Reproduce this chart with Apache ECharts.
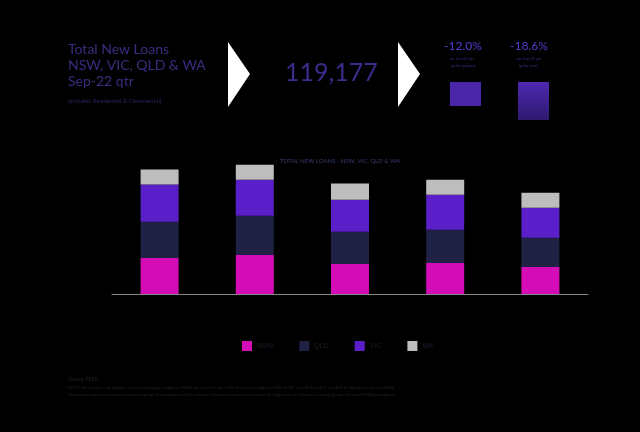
<!DOCTYPE html><html><head><meta charset="utf-8"><script src="https://cdn.jsdelivr.net/npm/echarts@6/dist/echarts.min.js"></script>
<style>html,body{margin:0;background:#000}#c{width:640px;height:432px}</style></head><body><div id="c"></div><script>
const categories=['Sep-21','Dec-21','Mar-22','Jun-22','Sep-22'];
const nsw=[42500,46000,35400,36600,31900];
const qld=[42500,46000,37800,38900,34200];
const vic=[43700,42500,37800,41300,35400];
const wa=[17700,17700,18900,17700,17677];
const colors={NSW:'#d40cb5',QLD:'#1f2244',VIC:'#5a1fc8',WA:'#bdbdbd'};
const ch=echarts.init(document.getElementById('c'));
const mk=(n,d)=>({name:n,type:'bar',stack:'t',data:d,barWidth:38,itemStyle:{color:colors[n]}});
const T=(x,y,t,s,c,extra)=>Object.assign({type:'text',left:x,top:y,style:{text:t,font:s+'px Lato, sans-serif',fill:c}},extra||{});
ch.setOption({backgroundColor:'#000',animation:false,
title:{text:'TOTAL NEW LOANS - NSW, VIC, QLD & WA',left:335,top:153,textAlign:'center',textStyle:{color:'#2a2f55',fontSize:6,fontWeight:'bold',fontFamily:'Lato'}},
grid:{left:112,right:52,top:158,bottom:138},
xAxis:{type:'category',data:categories,axisLabel:{show:false},axisTick:{show:false},axisLine:{lineStyle:{color:'#888',width:1}}},
yAxis:{type:'value',min:0,max:160000,show:false,splitLine:{show:false}},
legend:{bottom:76,left:237,itemWidth:10,itemHeight:10,itemGap:26,icon:'rect',textStyle:{color:'#1c1c2a',fontSize:7}},
series:[mk('NSW',nsw),mk('QLD',qld),mk('VIC',vic),mk('WA',wa)],
graphic:[
T(68,42,'Total New Loans',14,'#3a2d80'),
T(68,58,'NSW, VIC, QLD & WA',14,'#3a2d80'),
T(68,74,'Sep-22 qtr',14,'#3a2d80'),
T(68,98,'(includes Residential & Commercial)',6,'#2a2560'),
{type:'polygon',shape:{points:[[228,42],[250,74],[228,107]]},style:{fill:'#fff'}},
{type:'polygon',shape:{points:[[398,42],[420,74],[398,107]]},style:{fill:'#fff'}},
T(285,60,'119,177',25,'#3b2c8c'),
T(444,40,'-12.0%',12,'#5a3ad0'),
T(510,40,'-18.6%',12,'#5a3ad0'),
T(450,57,'on Jun-22 qtr',4,'#3a2d80'),
T(451,64,'(prior quarter)',4,'#3a2d80'),
T(517,57,'on Sep-21 qtr',4,'#3a2d80'),
T(519,64,'(prior year)',4,'#3a2d80'),
{type:'rect',shape:{x:450,y:82,width:31,height:24},style:{fill:'#4a27a8'}},
{type:'rect',shape:{x:518,y:82,width:31,height:38},style:{fill:new echarts.graphic.LinearGradient(0,0,0,1,[{offset:0,color:'#4d28b0'},{offset:1,color:'#2e1a70'}])}},
T(68,377,'Source: PEXA',5,'#222'),
T(68,386,'NOTE: The analysis only includes new loan mortgages lodged on PEXA. As at Jun-22, over 95% of transfers lodged in NSW & VIC, over 85% in QLD and 80% in WA were settled on PEXA.',4,'#222'),
T(68,393,'Transactions data also includes commercial property transactions. Data excludes refinances and does not account for lodgement of refinance or mortgage data from non-PEXA participants.',4,'#222')
]});
</script></body></html>
